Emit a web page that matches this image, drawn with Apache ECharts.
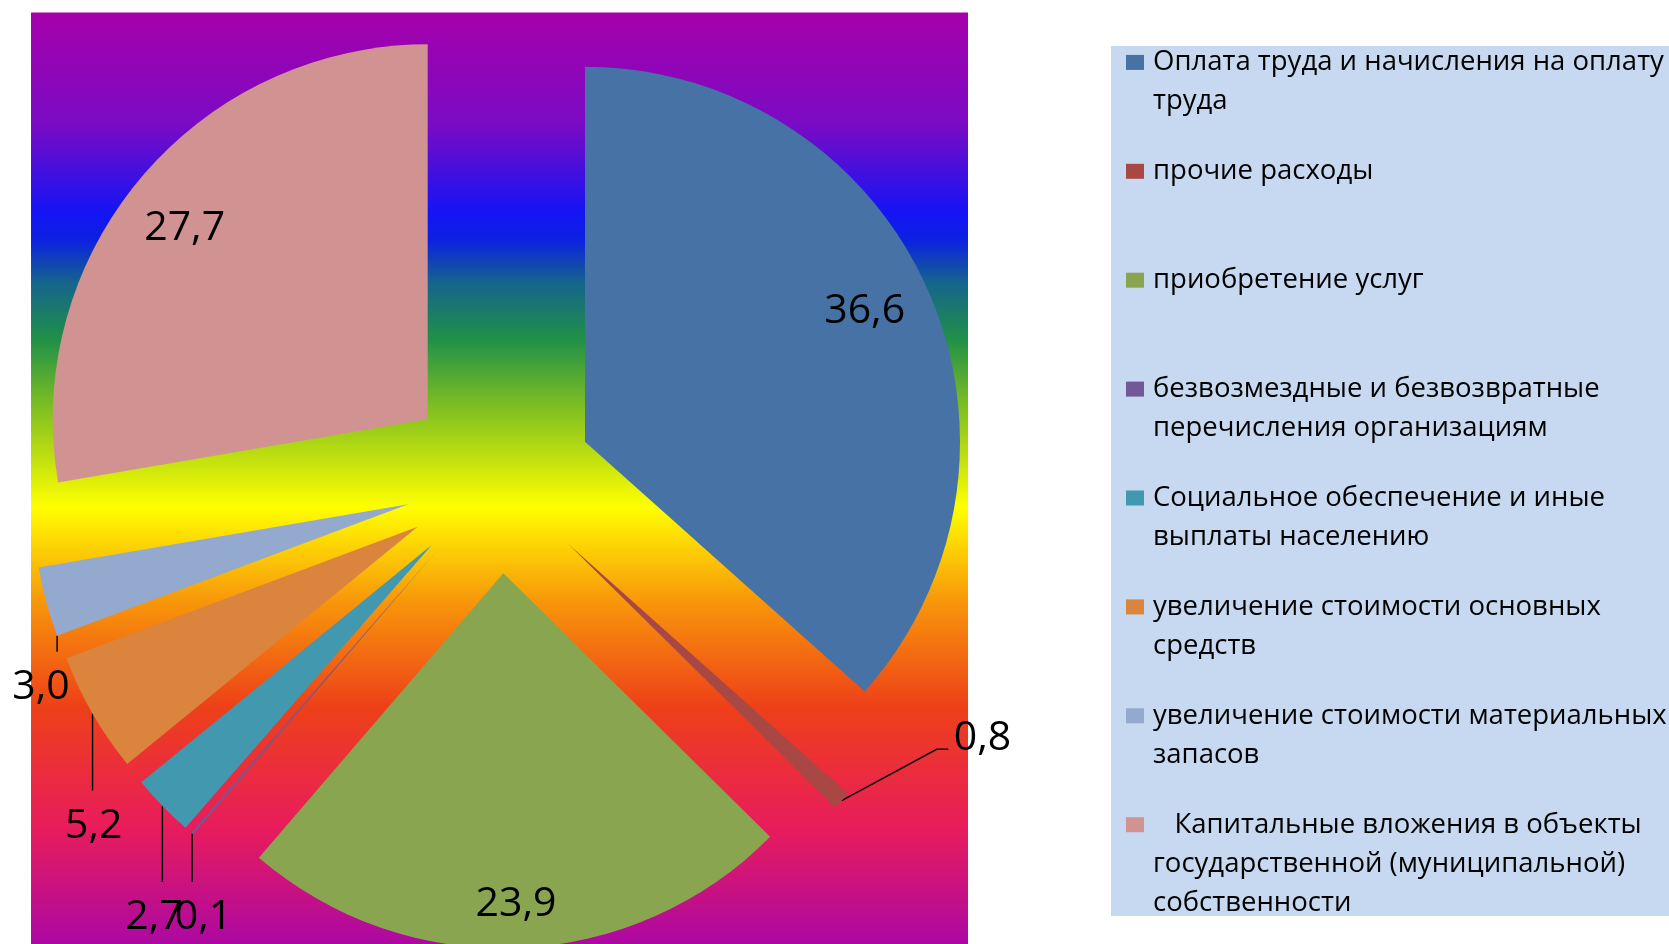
<!DOCTYPE html>
<html><head><meta charset="utf-8">
<script src="https://cdn.jsdelivr.net/npm/echarts@6/dist/echarts.min.js"></script>
<style>html,body{margin:0;padding:0;background:#fff}#c{width:1669px;height:944px}</style>
</head><body><div id="c"></div>
<script>
// ---------- data ----------
const categories = [
  'Оплата труда и начисления на оплату\nтруда',
  'прочие расходы',
  'приобретение услуг',
  'безвозмездные и безвозвратные\nперечисления организациям',
  'Социальное обеспечение и иные\nвыплаты населению',
  'увеличение стоимости основных\nсредств',
  'увеличение стоимости материальных\nзапасов',
  '   Капитальные вложения в объекты\nгосударственной (муниципальной)\nсобственности'
];
const values = [36.6, 0.8, 23.9, 0.1, 2.7, 5.2, 3.0, 27.7];

// ---------- styles / layout ----------
const colors = ['#4672A6', '#A94744', '#89A54F', '#735897', '#4198AF', '#DB843E', '#94A9CE', '#D19392'];
const R = 375;
// exploded slice apex positions (per slice offset)
const sliceCenters = [[585, 441.7], [568.3, 544], [503.3, 573.3], [437.5, 550], [431.7, 545], [417.7, 526.7], [408.3, 504.3], [427.7, 419.3]];
const labelPos = [[864.7, 307.5], [982.5, 735], [516, 901.3], [203.5, 914], [154, 914], [93.7, 822.5], [41, 683.7], [184.7, 224.5]];
const labelLineKind = ['none', 'elbow', 'none', 'down', 'down', 'down', 'downFromStart', 'none'];
const TEXT_DY = 3.5;
const FONT = 'Open Sans';
const L = 39;        // legend line height
const SLOT = 108.9;  // legend item spacing
const total = values.reduce((a, b) => a + b, 0);

function labelLayoutFor(i) {
  return function (p) {
    const [lx, ly] = labelPos[i];
    const out = { x: lx, y: ly + TEXT_DY, align: 'center', verticalAlign: 'middle' };
    const kind = labelLineKind[i];
    const pts = p.labelLinePoints;
    if (kind !== 'none' && pts) {
      let s = pts[0];
      if (kind === 'downFromStart') {
        let cum = 0;
        for (let k = 0; k < i; k++) cum += values[k];
        const a = cum / total * Math.PI * 2;
        const c = sliceCenters[i];
        s = [c[0] + R * Math.sin(a), c[1] - R * Math.cos(a)];
      }
      if (kind === 'elbow') {
        out.labelLinePoints = [s, [lx - 45.8, ly + 14.3], [lx - 34.2, ly + 14.3]];
      } else {
        out.labelLinePoints = [s, [s[0], ly - 32]];
      }
    }
    return out;
  };
}

const series = values.map((_, i) => ({
  type: 'pie',
  radius: [0, R],
  center: sliceCenters[i],
  startAngle: 90,
  clockwise: true,
  avoidLabelOverlap: false,
  silent: true,
  emphasis: { disabled: true },
  z: 2,
  itemStyle: { borderWidth: 0 },
  label: { show: false },
  labelLine: { show: false },
  data: categories.map((name, j) => ({
    name: name,
    value: values[j],
    itemStyle: { color: j === i ? colors[j] : 'rgba(0,0,0,0)' },
    label: j === i ? {
      show: true, position: 'outside',
      formatter: (p) => p.value.toFixed(1).replace('.', ','),
      fontFamily: FONT, fontSize: 41, color: '#000', width: 140, overflow: 'none'
    } : { show: false },
    labelLine: j === i ? {
      show: labelLineKind[i] !== 'none', length: 0, length2: 0,
      lineStyle: { color: '#000', width: 1.4 }
    } : { show: false }
  })),
  labelLayout: labelLayoutFor(i)
}));

const chart = echarts.init(document.getElementById('c'), null, { renderer: 'canvas' });
chart.setOption({
  animation: false,
  backgroundColor: '#ffffff',
  graphic: [
    {
      type: 'rect', z: -10, silent: true,
      shape: { x: 31, y: 12.5, width: 937, height: 932 },
      style: {
        fill: new echarts.graphic.LinearGradient(0, 0, 0, 1, [
          { offset: 0, color: '#A600AA' },
          { offset: 0.12, color: '#7A0BC4' },
          { offset: 0.215, color: '#1414F5' },
          { offset: 0.245, color: '#0C22E0' },
          { offset: 0.29, color: '#16648C' },
          { offset: 0.35, color: '#209048' },
          { offset: 0.425, color: '#80C020' },
          { offset: 0.53, color: '#FFFF00' },
          { offset: 0.63, color: '#F8980A' },
          { offset: 0.745, color: '#EE4018' },
          { offset: 0.875, color: '#E81C5C' },
          { offset: 1, color: '#AC08A4' }
        ])
      }
    },
    {
      type: 'rect', z: -10, silent: true,
      shape: { x: 1111, y: 46, width: 600, height: 870 },
      style: { fill: '#C6D9F0' }
    }
  ],
  legend: {
    orient: 'vertical',
    left: 1126,
    top: 62.4 - 2.5 * L,
    padding: 0,
    itemGap: SLOT - 5 * L,
    icon: 'rect',
    itemWidth: 18,
    itemHeight: 15,
    selectedMode: false,
    // first text line aligned with the marker: pad every item to 5 lines, text starting on line 3
    formatter: (name) => {
      const n = name.split('\n').length;
      return '\n\n' + name + '\n'.repeat(3 - n);
    },
    textStyle: { fontFamily: FONT, fontSize: 27.5, lineHeight: L, color: '#000', backgroundColor: 'transparent', padding: [0, 0, 0, 4] },
    data: categories.map((name, i) => ({ name: name, itemStyle: { color: colors[i] } }))
  },
  series: series
});
</script>
</body></html>
